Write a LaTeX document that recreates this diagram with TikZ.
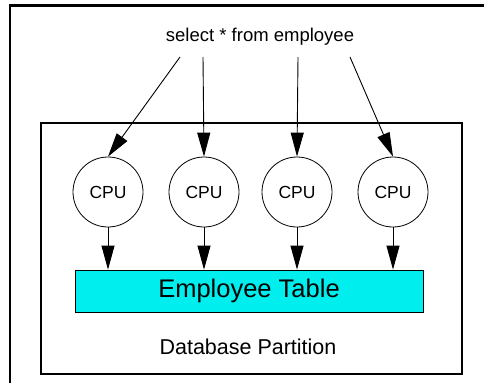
\documentclass[tikz,border=0pt]{standalone}
\usepackage{fontspec}
\setmainfont{Liberation Sans}
\usetikzlibrary{arrows.meta, positioning}

\definecolor{tablecyan}{RGB}{0,238,238}

\tikzset{
  cpu/.style={draw, circle, minimum size=70pt, inner sep=0pt, line width=0.8pt, font=\fontsize{17.5}{20}\selectfont},
  tablebox/.style={draw, fill=tablecyan, line width=0.8pt, minimum width=348pt, minimum height=42pt, inner sep=0pt, font=\fontsize{25.5}{28}\selectfont},
  flow/.style={-{Triangle[length=24pt,width=13pt]}, line width=0.9pt},
}

\begin{document}
\begin{tikzpicture}[x=1pt, y=-1pt]
    \useasboundingbox (0,0) rectangle (484,383);

    % Page frame (top and left only)
    \draw[line width=2.2pt] (10,383) -- (10,5.5) -- (484,5.5);

    % Database partition box
    \draw[line width=2pt] (41,123) rectangle (462,374);

    % Query text
    \node[inner sep=0pt, font=\fontsize{18.5}{20}\selectfont] (query) at (260,36.5) {select * from employee};
    \coordinate (q1) at (180,57);
    \coordinate (q2) at (203,57);
    \coordinate (q3) at (298,57);
    \coordinate (q4) at (350,57);

    % CPUs
    \foreach \x [count=\i] in {108,204,297,393} {
        \node[cpu] (cpu\i) at (\x,192) {CPU};
    }

    % Table and partition label
    \node[tablebox] (table) at (249,291) {Employee Table};
    \node[inner sep=0pt, font=\fontsize{21.5}{24}\selectfont] (part) at (248,347) {Database Partition};

    % Query fans out to the CPUs
    \foreach \i in {1,2,3,4} {
        \draw[flow] (q\i) -- (cpu\i.north);
    }

    % Each CPU reads the table
    \foreach \i in {1,2,3,4} {
        \draw[flow] (cpu\i.south) -- (cpu\i.south |- table.north);
    }
\end{tikzpicture}
\end{document}
